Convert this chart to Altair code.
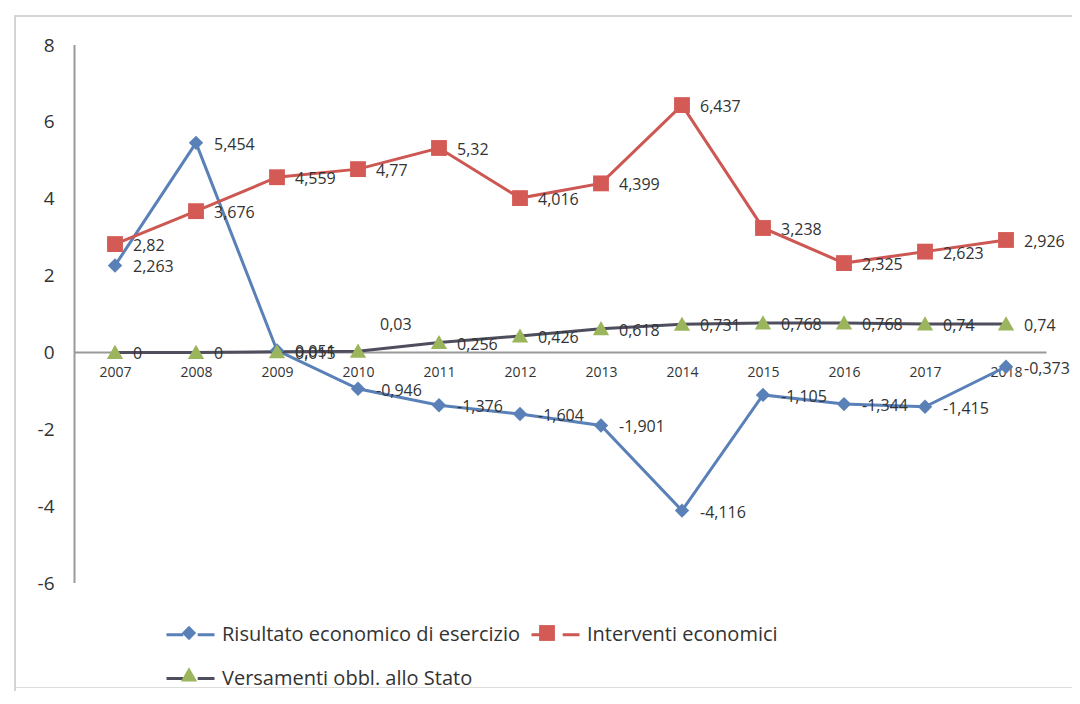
import altair as alt
import pandas as pd

# ---- data ----
years = list(range(2007, 2019))
risultato = [2.263, 5.454, 0.051, -0.946, -1.376, -1.604, -1.901, -4.116, -1.105, -1.344, -1.415, -0.373]
interventi = [2.82, 3.676, 4.559, 4.77, 5.32, 4.016, 4.399, 6.437, 3.238, 2.325, 2.623, 2.926]
versamenti = [0, 0, 0.015, 0.03, 0.256, 0.426, 0.618, 0.731, 0.768, 0.768, 0.74, 0.74]
series_names = ["Risultato economico di esercizio", "Interventi economici", "Versamenti obbl.  allo Stato"]
y_ticks = [-6, -4, -2, 0, 2, 4, 6, 8]

line_colors = ["#5a80b8", "#cd5752", "#4e4e5e"]
marker_colors = ["#5a80b8", "#d45a55", "#9bb55c"]
marker_paths = [
    "M0,-0.3L0.3,0L0,0.3L-0.3,0Z",                 # diamond
    "M-0.33,-0.33L0.33,-0.33L0.33,0.33L-0.33,0.33Z",  # square
    "M0,-0.32L0.34,0.27L-0.34,0.27Z",               # triangle
]
# marker legend uses a distinct domain so it is not merged with the line legend
marker_names = [n + "\u200b" for n in series_names]


def fmt(v):
    return f"{v:g}".replace(".", ",")


rows = []
for name, mname, vals in zip(series_names, marker_names, [risultato, interventi, versamenti]):
    for yr, v in zip(years, vals):
        rows.append({"year": yr, "value": v, "series": name, "series_m": mname, "label": fmt(v)})
df = pd.DataFrame(rows)

W, H = 1058, 672
FONT = "Open Sans"
TXT = "#333333"

x_scale = alt.Scale(domain=[2005.7531, 2018.8148], nice=False, zero=False)
y_scale = alt.Scale(domain=[-8.7063, 8.7807], nice=False, zero=False)

x_enc = alt.X("year:Q", scale=x_scale,
              axis=alt.Axis(values=years, format="d", offset=-335, domain=False, ticks=False,
                            grid=False, labelPadding=13, labelFontSize=14, labelFont=FONT,
                            labelColor=TXT, title=None))
y_enc = alt.Y("value:Q", scale=y_scale,
              axis=alt.Axis(values=y_ticks, offset=-61, domain=False, ticks=False, grid=False,
                            labelPadding=21, labelFontSize=19, labelFont=FONT,
                            labelColor=TXT, labelExpr="datum.value + ''", title=None))

LEG_FS = 20
legend_common = dict(orient="none", legendX=151, legendY=594, direction="horizontal", columns=2,
                     title=None, symbolSize=2304, labelFont=FONT, labelFontSize=LEG_FS,
                     rowPadding=8, padding=0, labelLimit=0)

# frame (left and top edges of the chart area)
frame_left = alt.Chart(pd.DataFrame({"a": [0]})).mark_rule(color="#d4d4d4", strokeWidth=2).encode(
    x=alt.value(1), y=alt.value(0), y2=alt.value(H + 4))
frame_top = alt.Chart(pd.DataFrame({"a": [0]})).mark_rule(color="#d4d4d4", strokeWidth=2).encode(
    y=alt.value(1), x=alt.value(0), x2=alt.value(W))

# axis lines
yaxis_df = pd.DataFrame({"year": [years[0] - 0.5], "value": [max(y_ticks)], "value2": [min(y_ticks)]})
yaxis_rule = alt.Chart(yaxis_df).mark_rule(color="#9a9a9a", strokeWidth=2).encode(
    x="year:Q", y="value:Q", y2="value2:Q")
xaxis_df = pd.DataFrame({"year": [years[0] - 0.5], "year2": [years[-1] + 0.5], "value": [0]})
xaxis_rule = alt.Chart(xaxis_df).mark_rule(color="#9a9a9a", strokeWidth=2).encode(
    x="year:Q", x2="year2:Q", y="value:Q")

lines = alt.Chart(df).mark_line(strokeWidth=3).encode(
    x="year:Q", y="value:Q",
    stroke=alt.Stroke("series:N", scale=alt.Scale(domain=series_names, range=line_colors),
                      legend=alt.Legend(symbolType="M-1,0L-0.3,0M0.3,0L1,0", symbolStrokeWidth=3,
                                        labelColor=TXT, labelOffset=6, columnPadding=4,
                                        **legend_common)),
    detail="series:N",
)

points = alt.Chart(df).mark_point(filled=True, size=2304, opacity=1, strokeWidth=0).encode(
    x="year:Q", y="value:Q",
    shape=alt.Shape("series_m:N", scale=alt.Scale(domain=marker_names, range=marker_paths),
                    legend=alt.Legend(symbolStrokeWidth=0, labelExpr="''", labelOffset=0,
                                      columnPadding=310, **legend_common)),
    fill=alt.Fill("series_m:N", scale=alt.Scale(domain=marker_names, range=marker_colors)),
)

is_special = (alt.datum.year == 2010) & (alt.datum.series == series_names[2])

labels = alt.Chart(df).mark_text(align="left", baseline="middle", dx=18, dy=2, fontSize=16,
                                 font=FONT, color=TXT).encode(
    x="year:Q", y="value:Q", text="label:N"
).transform_filter(~is_special)

label_special = alt.Chart(df).mark_text(align="left", baseline="middle", dx=22, dy=-26, fontSize=16,
                                        font=FONT, color=TXT).encode(
    x="year:Q", y="value:Q", text="label:N"
).transform_filter(is_special)

base = alt.Chart(df).mark_point(opacity=0).encode(x=x_enc, y=y_enc)

chart = alt.layer(
    base, frame_left, frame_top, yaxis_rule, xaxis_rule, lines, points, labels, label_special
).properties(
    width=W, height=H,
    padding={"left": 6, "top": 7, "right": 0, "bottom": 4},
    autosize=alt.AutoSizeParams(type="none"),
).configure_view(stroke=None).configure(background="white")

chart.save("out.html", embed_options={"renderer": "svg", "actions": False})
